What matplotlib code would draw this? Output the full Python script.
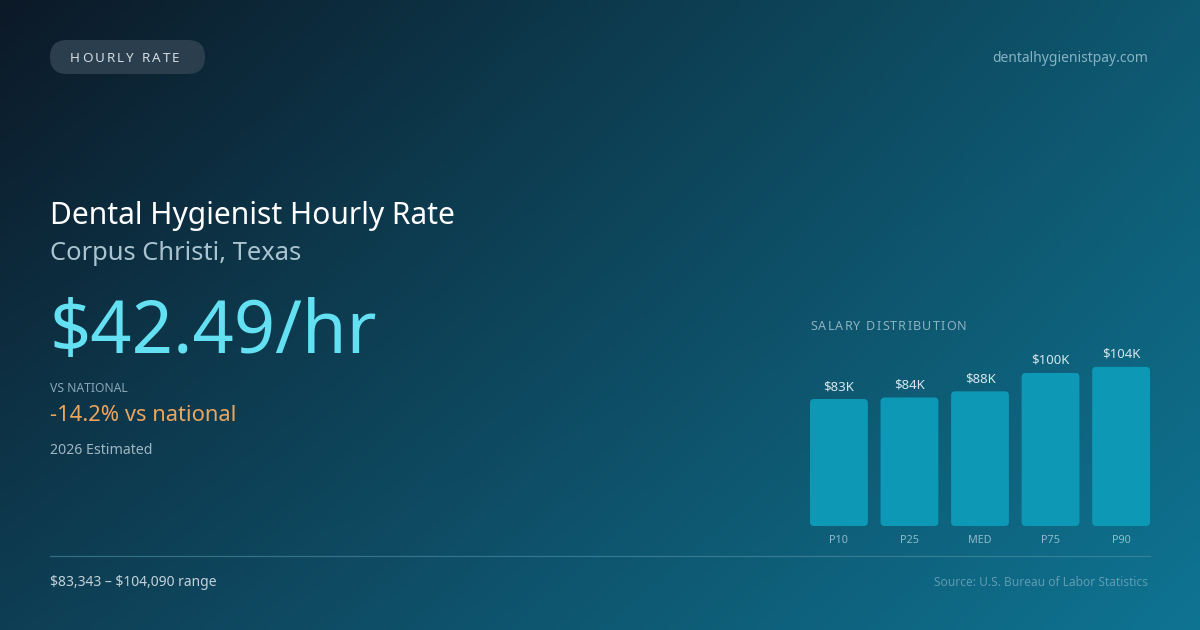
import matplotlib.pyplot as plt
import numpy as np
from matplotlib.patches import FancyBboxPatch

plt.rcParams['font.family'] = ['Noto Sans', 'DejaVu Sans']
plt.rcParams['text.parse_math'] = False

# Datos del grafico
percentiles = ['P10', 'P25', 'MED', 'P75', 'P90']
salaries_k = [83, 84, 88, 100, 104]
bar_labels = ['$83K', '$84K', '$88K', '$100K', '$104K']

W, H = 1200, 630
fig = plt.figure(figsize=(W / 100, H / 100), dpi=100)

# Fondo con degradado diagonal
bg = fig.add_axes([0, 0, 1, 1])
bg.set_axis_off()
tl = np.array([12, 25, 39])
tr = np.array([14, 88, 112])
bl = np.array([14, 62, 84])
br = np.array([15, 116, 146])
u = np.linspace(0, 1, 300)[None, :, None]
v = np.linspace(0, 1, 160)[:, None, None]
img = (tl * (1 - u) * (1 - v) + tr * u * (1 - v) + bl * (1 - u) * v + br * u * v) / 255
bg.imshow(img, extent=[0, W, H, 0], aspect='auto', interpolation='bicubic')
bg.set_xlim(0, W)
bg.set_ylim(H, 0)


def spaced(x, y, s, spacing, **kw):
    # Texto con espaciado entre letras
    r = fig.canvas.get_renderer()
    for ch in s:
        t = bg.text(x, y, ch, **kw)
        ext = t.get_window_extent(r)
        x += ext.width + spacing


# Etiqueta tipo "pill"
bg.add_patch(FancyBboxPatch((50, 40), 155, 34, boxstyle='round,pad=0,rounding_size=17',
                            facecolor='#2a3e4e', edgecolor='none'))
spaced(70, 58, 'HOURLY RATE', 2.1, fontsize=9.7, color='#d3dce2', va='center')

bg.text(1148, 58, 'dentalhygienistpay.com', fontsize=10, color='#86b3c4', ha='right', va='center')

bg.text(50, 224, 'Dental Hygienist Hourly Rate', fontsize=21.6, color='white', va='baseline')
bg.text(50, 260, 'Corpus Christi, Texas', fontsize=18.4, color='#a9c3cf', va='baseline')
bg.text(50, 353, '$42.49/hr', fontsize=52, color='#63e1f2', va='baseline')
bg.text(50, 392, 'VS NATIONAL', fontsize=8.8, color='#89a7b5', va='baseline')
bg.text(50, 421, '-14.2% vs national', fontsize=15.8, color='#eba55c', va='baseline')
bg.text(50, 454, '2026 Estimated', fontsize=10.2, color='#9fb6c1', va='baseline')

bg.plot([50, 1150], [556, 556], color='#4f8fa5', lw=0.9, alpha=0.6)
bg.text(50, 586, '$83,343 \u2013 $104,090 range', fontsize=10, color='#c3d2d9', va='baseline')
bg.text(1148, 586, 'Source: U.S. Bureau of Labor Statistics', fontsize=8.6, color='#5f9bb1',
        ha='right', va='baseline')

spaced(810, 330, 'SALARY DISTRIBUTION', 1.2, fontsize=9, color='#8fb2c0', va='baseline')

# Grafico de barras
px_per_k = 1.53
ax_h = 186
ax = fig.add_axes([810 / W, (H - 526) / H, 340 / W, ax_h / H])
ax.set_axis_off()
ax.set_xlim(-0.41, 4.41)
ax.set_ylim(0, ax_h / px_per_k)
x = np.arange(len(percentiles))
bw = 0.82
ux = 340 / 4.82  # pixeles por unidad x
r_px = 4
for xi, val, lab, cat in zip(x, salaries_k, bar_labels, percentiles):
    ax.add_patch(FancyBboxPatch((xi - bw / 2, 0), bw, val,
                                boxstyle=f'round,pad=0,rounding_size={r_px / ux}',
                                mutation_aspect=ux / px_per_k,
                                facecolor='#0d98b5', edgecolor='none'))
    ax.text(xi, val + 9 / px_per_k, lab, ha='center', va='baseline', fontsize=9.5, color='#d6e6ec')
    ax.text(xi, -17 / px_per_k, cat, ha='center', va='baseline', fontsize=7.8, color='#8ebccb',
            clip_on=False)

fig.savefig('out.png', dpi=100)
